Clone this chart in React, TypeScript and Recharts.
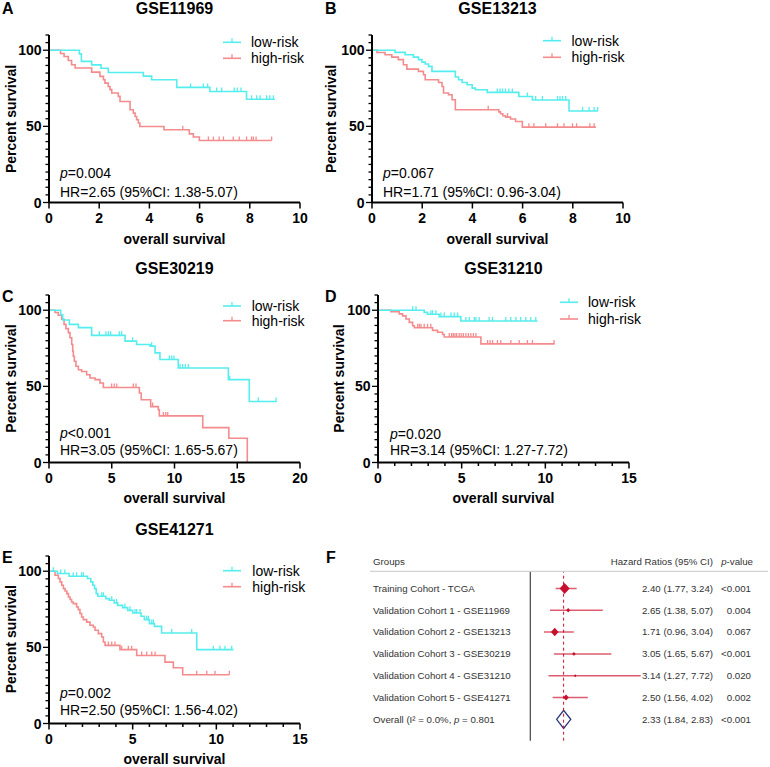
import React from "react";
import { ComposedChart, Line, XAxis, YAxis, Bar, ReferenceLine } from "recharts";

const FONT = '"Liberation Sans", Arial, Helvetica, sans-serif';
const CYAN = "#55EDED";
const SALMON = "#F48B8D";
const CI_RED = "#DE5C70";
const MARK_RED = "#C8102E";
const NAVY = "#283579";

// ---------- Kaplan-Meier data: [time, percent survival] step points ----------
// A: GSE11969
const lowA = [[0,100],[1.21,97.6],[1.29,92.7],[1.70,90.4],[2.07,88.2],[2.36,85.4],[3.76,83.0],[4.09,80.6],[5.09,75.6],[6.41,72.9],[7.87,67.8],[9.0,67.8]];
const highA = [[0,100],[0.46,97.9],[0.60,95.9],[0.77,93.3],[0.90,90.5],[1.04,88.3],[1.70,85.6],[2.03,82.8],[2.17,80.6],[2.23,78.4],[2.36,76.2],[2.43,74.1],[2.50,71.9],[2.76,69.7],[2.83,66.3],[3.23,60.9],[3.36,58.7],[3.43,56.5],[3.49,54.3],[3.56,52.2],[3.62,49.9],[4.58,47.8],[5.59,45.1],[5.75,43.0],[5.99,40.7],[8.87,40.7]];
const censLowA = [5.64,6.15,6.32,6.68,6.88,7.38,7.50,7.65,8.07,8.27,8.41,8.67,8.80,8.94];
const censHighA = [5.33,6.35,6.55,6.78,6.95,7.34,7.58,7.87,8.07,8.14,8.25,8.87];

// B: GSE13213
const lowB = [[0,100],[0.92,98.6],[1.32,97.0],[1.65,95.5],[1.85,93.8],[1.99,92.2],[2.12,91.0],[2.25,89.4],[2.39,86.1],[3.32,82.4],[3.45,80.6],[3.59,78.8],[3.79,77.3],[3.99,75.1],[4.12,74.0],[4.59,72.3],[5.85,69.6],[6.39,67.3],[7.85,60.1],[9.0,60.1]];
const highB = [[0,100],[0.2,98.5],[0.52,97.0],[0.79,95.5],[1.05,93.8],[1.25,90.5],[1.39,87.6],[1.85,86.1],[2.05,83.9],[2.12,80.6],[2.65,78.8],[2.79,76.2],[2.85,71.9],[3.05,70.8],[3.19,67.5],[3.32,60.9],[5.05,59.5],[5.12,58.3],[5.21,57.0],[5.32,56.1],[5.52,54.8],[5.72,53.2],[5.99,49.5],[8.92,49.5]];
const censLowB = [4.99,5.10,5.20,5.32,5.45,5.59,6.19,6.52,6.79,7.39,7.49,7.59,7.72,8.39,8.65,8.85,8.99];
const censHighB = [4.63,5.40,6.25,6.45,6.92,7.39,7.65,7.99,8.15,8.68,8.85];

// C: GSE30219
const lowC = [[0,100],[0.93,97.0],[1.09,93.6],[1.62,90.7],[2.34,88.6],[3.40,83.5],[6.06,79.7],[6.98,77.5],[8.05,76.4],[8.45,72.0],[8.84,67.6],[10.3,62.1],[14.29,54.4],[15.96,40.1],[18.14,40.1]];
const highC = [[0,100],[0.48,98.5],[0.74,96.7],[1.01,94.1],[1.20,90.7],[1.35,87.9],[1.54,85.3],[1.67,81.9],[1.81,77.5],[1.89,73.1],[1.94,69.8],[2.02,66.5],[2.15,63.2],[2.34,60.9],[2.60,59.8],[3.00,57.6],[3.27,55.5],[3.67,54.4],[4.06,52.2],[4.33,49.3],[7.20,45.6],[7.35,41.2],[8.10,36.7],[8.71,34.6],[8.79,30.6],[12.25,22.9],[14.33,15.9],[15.8,0]];
const censLowC = [4.01,4.54,4.73,4.91,5.60,5.79,6.66,8.18,9.59,9.78,9.96,10.44,10.65,10.86,11.1,14.4,16.68,18.1];
const censHighC = [4.99,5.2,5.4,6.72,6.93,8.26,9.11,9.3,9.46];

// D: GSE31210
const lowD = [[0,100],[2.76,98.6],[2.96,97.4],[3.66,95.8],[4.95,92.9],[9.53,92.9]];
const highD = [[0,100],[0.77,99.0],[1.27,97.6],[1.47,96.3],[1.67,94.2],[1.87,92.0],[2.07,89.8],[2.17,88.5],[3.26,86.8],[3.56,85.5],[3.86,84.1],[3.96,82.4],[6.15,77.9],[10.56,77.9]];
const censLowD = [2.07,2.27,3.16,3.26,3.46,3.76,3.96,4.36,4.56,4.76,5.25,5.45,5.75,5.85,6.05,6.64,6.84,7.64,7.94,8.24,8.53,8.83,9.13,9.43];
const censHighD = [2.37,2.47,2.57,2.76,2.96,3.16,4.26,4.4,4.5,4.6,4.7,4.85,4.97,5.1,5.25,5.4,5.55,5.7,5.85,6.55,6.7,6.85,7.14,7.34,7.94,8.44,8.93,9.23,10.52];

// E: GSE41271
const lowE = [[0,100],[0.5,98.5],[1.2,96.7],[2.3,95.2],[2.5,93.0],[2.62,90.8],[2.72,88.6],[2.82,85.3],[2.92,83.6],[3.4,82.0],[3.6,80.9],[3.9,79.2],[4.1,77.6],[4.4,76.1],[4.7,74.3],[5.0,72.6],[5.5,70.4],[5.7,68.2],[6.0,65.6],[6.3,63.8],[6.73,59.4],[8.83,48.5],[11.02,48.5]];
const highE = [[0,100],[0.36,97.4],[0.56,95.2],[0.66,93.0],[0.76,90.8],[0.86,88.6],[0.96,87.0],[1.06,85.3],[1.16,83.1],[1.26,81.4],[1.35,79.8],[1.45,78.7],[1.65,76.5],[1.75,74.8],[1.85,72.2],[1.95,69.9],[2.05,68.2],[2.25,66.6],[2.45,64.5],[2.65,63.4],[2.75,61.2],[2.95,59.0],[3.15,56.8],[3.25,53.5],[3.35,51.3],[4.24,48.5],[5.24,44.7],[6.93,40.3],[7.43,36.6],[7.99,32.0],[10.78,32.0]];
const censLowE = [0.26,0.7,0.95,1.45,1.65,1.95,2.05,3.15,3.25,3.75,4.04,4.54,4.84,5.14,5.24,5.44,5.84,5.94,6.14,6.24,7.33,8.53,9.82,10.22,10.52,10.92];
const censHighE = [3.55,3.75,3.94,4.34,4.74,4.94,5.54,5.84,6.14,6.34,8.83,9.43,9.92,10.78];

// ---------- tick labels / texts ----------
const yTicksKM = [0,5,10,15,20,25,30,35,40,45,50,55,60,65,70,75,80,85,90,95,100,105,110];
const xTicksAB = [0,2,4,6,8,10];
const xTicksC = [0,5,10,15,20];
const xTicksDE = [0,1,2,3,4,5,6,7,8,9,10,11,12,13,14,15];
const titles = ["GSE11969","GSE13213","GSE30219","GSE31210","GSE41271"];
const letters = ["A","B","C","D","E"];
const pLabels = ["=0.004","=0.067","<0.001","=0.020","=0.002"];
const hrLabels = ["HR=2.65 (95%CI: 1.38-5.07)","HR=1.71 (95%CI: 0.96-3.04)","HR=3.05 (95%CI: 1.65-5.67)","HR=3.14 (95%CI: 1.27-7.72)","HR=2.50 (95%CI: 1.56-4.02)"];
const seriesNames = ["low-risk","high-risk"];

// ---------- Forest plot data ----------
const forestGroups = ["Training Cohort - TCGA","Validation Cohort 1 - GSE11969","Validation Cohort 2 - GSE13213","Validation Cohort 3 - GSE30219","Validation Cohort 4 - GSE31210","Validation Cohort 5 - GSE41271","Overall"];
const forestHR = [2.40,2.65,1.71,3.05,3.14,2.50,2.33];
const forestLo = [1.77,1.38,0.96,1.65,1.27,1.56,1.84];
const forestHi = [3.24,5.07,3.04,5.67,7.72,4.02,2.83];
const forestP = ["<0.001","0.004","0.067","<0.001","0.020","0.002","<0.001"];
const forestWeight = [44.6,7.1,25.7,5.7,3.0,13.9,100];
const overallI2 = "0.0%";
const overallHetP = "0.801";

// ---------- helpers ----------
const toPts = (a: number[][]) => a.map(([t, s]) => ({ t, s }));
const survAt = (steps: number[][], t: number) => {
  let s = steps[0][1];
  for (const [ti, si] of steps) if (ti <= t) s = si;
  return s;
};
const censPts = (steps: number[][], times: number[]) => times.map((t) => ({ t, s: survAt(steps, t) }));

const PW = 251, PH = 167.5, ML = 60, MT = 12, MR = 20, XH = 34;

const xTick = (major: number) => (p: any) => {
  const v = p.payload.value;
  const isMajor = Math.abs(v / major - Math.round(v / major)) < 1e-6;
  return (
    <g key={`xt-${v}`}>
      <line x1={p.x} x2={p.x} y1={p.y} y2={p.y + (isMajor ? 6 : 3.5)} stroke="#000" strokeWidth={1.5} />
      {isMajor && (
        <text x={p.x} y={p.y + 20.5} textAnchor="middle" fontFamily={FONT} fontSize={14} fontWeight="bold" fill="#000">{v}</text>
      )}
    </g>
  );
};
const yTick = (p: any) => {
  const v = p.payload.value;
  const isMajor = v % 50 === 0;
  return (
    <g key={`yt-${v}`}>
      <line x1={p.x - (isMajor ? 6 : 3.5)} x2={p.x} y1={p.y} y2={p.y} stroke="#000" strokeWidth={1.3} />
      {isMajor && (
        <text x={p.x - 7.5} y={p.y + 5} textAnchor="end" fontFamily={FONT} fontSize={14} fontWeight="bold" fill="#000">{v}</text>
      )}
    </g>
  );
};
const censorDot = (color: string) => (p: any) => {
  if (p.cx == null || p.cy == null) return <g key={`cd-${p.index}`} />;
  return <line key={`cd-${p.index}`} x1={p.cx} x2={p.cx} y1={p.cy - 4} y2={p.cy} stroke={color} strokeWidth={1.3} />;
};

function KMChart(props: any) {
  const { left, bottom, xMax, xTicks, major, low, high, lowCens, highCens } = props;
  const top = bottom - PH;
  return (
    <div style={{ position: "absolute", left: left - ML, top: top - MT }}>
      <ComposedChart width={ML + PW + MR} height={MT + PH + XH} margin={{ top: MT, right: MR, bottom: 0, left: 0 }}>
        <XAxis type="number" dataKey="t" domain={[0, xMax]} ticks={xTicks} interval={0} allowDataOverflow height={XH}
          tickSize={0} tickMargin={0} tickLine={false} axisLine={{ stroke: "#000", strokeWidth: 2 }} tick={xTick(major)} />
        <YAxis type="number" dataKey="s" domain={[0, 110]} ticks={yTicksKM} interval={0} allowDataOverflow width={ML}
          tickSize={0} tickMargin={0} tickLine={false} axisLine={{ stroke: "#000", strokeWidth: 2 }} tick={yTick} />
        <Line data={toPts(high)} dataKey="s" type="stepAfter" stroke={SALMON} strokeWidth={1.6} dot={false} activeDot={false} isAnimationActive={false} />
        <Line data={censPts(high, highCens)} dataKey="s" stroke="none" strokeWidth={0} dot={censorDot(SALMON)} activeDot={false} isAnimationActive={false} />
        <Line data={toPts(low)} dataKey="s" type="stepAfter" stroke={CYAN} strokeWidth={1.6} dot={false} activeDot={false} isAnimationActive={false} />
        <Line data={censPts(low, lowCens)} dataKey="s" stroke="none" strokeWidth={0} dot={censorDot(CYAN)} activeDot={false} isAnimationActive={false} />
      </ComposedChart>
    </div>
  );
}

const panels = [
  { left: 49, bottom: 202.7, xMax: 10, xTicks: xTicksAB, major: 2, low: lowA, high: highA, lowCens: censLowA, highCens: censHighA,
    letter: [2, 13.5], titleY: 13.5, yLabX: 11, leg: [223, 42.3, 58.3, 251], stat: [60, 178.3, 196.7] },
  { left: 372, bottom: 202.7, xMax: 10, xTicks: xTicksAB, major: 2, low: lowB, high: highB, lowCens: censLowB, highCens: censHighB,
    letter: [325, 13.5], titleY: 13.5, yLabX: 331, leg: [543, 40.7, 57.3, 571.5], stat: [383, 178.3, 196.7] },
  { left: 49, bottom: 462.3, xMax: 20, xTicks: xTicksC, major: 5, low: lowC, high: highC, lowCens: censLowC, highCens: censHighC,
    letter: [2, 302], titleY: 273.8, yLabX: 11, leg: [223, 306, 320.7, 251.7], stat: [60, 438.3, 454.5] },
  { left: 378, bottom: 462.3, xMax: 15, xTicks: xTicksDE, major: 5, low: lowD, high: highD, lowCens: censLowD, highCens: censHighD,
    letter: [325, 302], titleY: 273.8, yLabX: 339, leg: [560, 302.3, 319, 588], stat: [390, 438.5, 455] },
  { left: 49, bottom: 723, xMax: 15, xTicks: xTicksDE, major: 5, low: lowE, high: highE, lowCens: censLowE, highCens: censHighE,
    letter: [2, 563], titleY: 535, yLabX: 11, leg: [223, 570.7, 586.7, 252.3], stat: [60, 698, 715.3] },
];

// ---------- Forest plot ----------
const forestRows = forestGroups.map((g, i) => ({
  group: g, hr: forestHR[i], lo: forestLo[i], hi: forestHi[i], p: forestP[i], weight: forestWeight[i],
  overall: i === forestGroups.length - 1, range: [forestLo[i], forestHi[i]],
}));
const overallHR = forestHR[forestHR.length - 1];

const ForestShape = (p: any) => {
  const { x, y, width, height, payload } = p;
  const cy = y + height / 2;
  const mx = x + (width * (payload.hr - payload.lo)) / (payload.hi - payload.lo);
  if (payload.overall) {
    return <polygon points={`${x},${cy} ${mx},${y} ${x + width},${cy} ${mx},${y + height}`} fill="#fff" stroke={NAVY} strokeWidth={1.3} />;
  }
  const r = 0.75 * Math.sqrt(payload.weight);
  return (
    <g>
      <line x1={x} x2={x + width} y1={cy} y2={cy} stroke={CI_RED} strokeWidth={1.5} />
      <polygon points={`${mx - r},${cy} ${mx},${cy - r * 1.1} ${mx + r},${cy} ${mx},${cy + r * 1.1}`} fill={MARK_RED} />
    </g>
  );
};

const ForestTick = (p: any) => {
  const row = forestRows.find((r) => r.group === p.payload.value);
  if (!row) return <g />;
  const ts = { fontFamily: FONT, fontSize: 9.7, fill: "#333" } as any;
  return (
    <g key={`ft-${row.group}`}>
      {row.overall ? (
        <text x={43} y={p.y} dy="0.35em" {...ts}>
          {"Overall (I\u00B2 = " + overallI2 + ", "}<tspan fontStyle="italic">p</tspan>{" = " + overallHetP}
        </text>
      ) : (
        <text x={43} y={p.y} dy="0.35em" {...ts}>{row.group}</text>
      )}
      <text x={383} y={p.y} dy="0.35em" textAnchor="end" {...ts}>
        {`${row.hr.toFixed(2)} (${row.lo.toFixed(2)}, ${row.hi.toFixed(2)})`}
      </text>
      <text x={421} y={p.y} dy="0.35em" textAnchor="end" {...ts}>{row.p}</text>
    </g>
  );
};

function ForestChart() {
  return (
    <div style={{ position: "absolute", left: 330, top: 540 }}>
      <ComposedChart layout="vertical" width={440} height={227} data={forestRows}
        margin={{ top: 31.7, right: 96.7, left: 10.3, bottom: 26.3 }}>
        <XAxis type="number" domain={[0, 10]} hide allowDataOverflow />
        <YAxis type="category" dataKey="group" width={190} axisLine={false} tickLine={false} interval={0}
          tick={ForestTick} padding={{ top: 5.7, bottom: 10.5 }} />
        <ReferenceLine x={0} stroke="#444" strokeWidth={1.2} />
        <ReferenceLine x={overallHR} stroke={MARK_RED} strokeWidth={1} strokeDasharray="3 3" />
        <Bar dataKey="range" barSize={18} shape={ForestShape} isAnimationActive={false} />
      </ComposedChart>
    </div>
  );
}

function Overlay() {
  const bold = { fontFamily: FONT, fontWeight: "bold", fill: "#000" } as any;
  const reg = { fontFamily: FONT, fill: "#000", fontSize: 14 } as any;
  return (
    <svg width={770} height={767} style={{ position: "absolute", left: 0, top: 0, pointerEvents: "none" }}>
      {panels.map((pn, i) => {
        const cx = pn.left + PW / 2;
        const cy = pn.bottom - PH / 2;
        const [lx, ly1, ly2, tx] = pn.leg;
        return (
          <g key={`ov-${i}`}>
            <text x={pn.letter[0]} y={pn.letter[1]} fontSize={16} {...bold}>{letters[i]}</text>
            <text x={cx} y={pn.titleY} fontSize={16} textAnchor="middle" {...bold}>{titles[i]}</text>
            <text x={pn.yLabX} y={cy} fontSize={14} textAnchor="middle" dominantBaseline="central"
              transform={`rotate(-90 ${pn.yLabX} ${cy})`} {...bold}>Percent survival</text>
            <text x={cx} y={pn.bottom + 40.8} fontSize={14} textAnchor="middle" {...bold}>overall survival</text>
            {[ly1, ly2].map((ly, k) => (
              <g key={`lg-${k}`}>
                <line x1={lx} x2={lx + 18} y1={ly} y2={ly} stroke={k === 0 ? CYAN : SALMON} strokeWidth={1.6} />
                <line x1={lx + 9} x2={lx + 9} y1={ly - 4} y2={ly} stroke={k === 0 ? CYAN : SALMON} strokeWidth={1.3} />
                <text x={tx} y={ly + 5} {...reg}>{seriesNames[k]}</text>
              </g>
            ))}
            <text x={pn.stat[0]} y={pn.stat[1]} {...reg}><tspan fontStyle="italic">p</tspan>{pLabels[i]}</text>
            <text x={pn.stat[0]} y={pn.stat[2]} {...reg}>{hrLabels[i]}</text>
          </g>
        );
      })}
      <text x={326} y={563} fontSize={16} {...bold}>F</text>
      <text x={373} y={564.5} fontFamily={FONT} fontSize={9.7} fill="#333">Groups</text>
      <text x={713} y={564.5} fontFamily={FONT} fontSize={9.7} fill="#333" textAnchor="end">Hazard Ratios (95% CI)</text>
      <text x={753} y={564.5} fontFamily={FONT} fontSize={9.7} fill="#333" textAnchor="end"><tspan fontStyle="italic">p</tspan>-value</text>
      <line x1={370} x2={768} y1={571.3} y2={571.3} stroke="#c8c8c8" strokeWidth={1} />
    </svg>
  );
}

export default function App() {
  return (
    <div style={{ position: "absolute", left: 0, top: 0, width: 770, height: 767, background: "#fff", overflow: "hidden" }}>
      {panels.map((pn, i) => (
        <KMChart key={`km-${i}`} {...pn} />
      ))}
      <ForestChart />
      <Overlay />
    </div>
  );
}
